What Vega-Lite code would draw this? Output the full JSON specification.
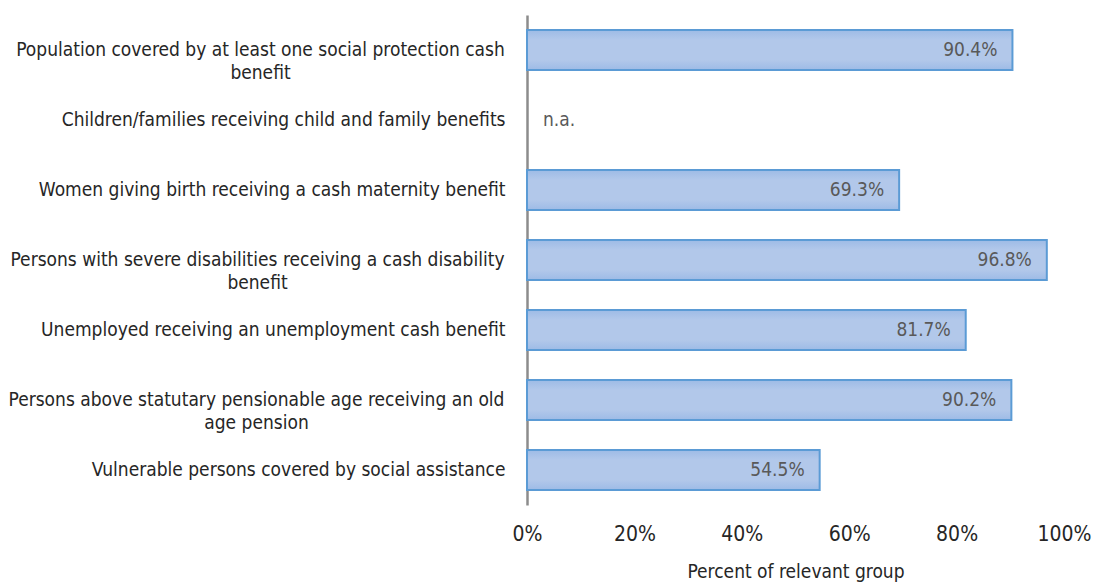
{
  "$schema": "https://vega.github.io/schema/vega-lite/v6.json",
  "autosize": "none",
  "width": 537,
  "height": 490,
  "padding": {"left": 527, "top": 15, "right": 34, "bottom": 80},
  "background": "white",
  "config": {
    "view": {"stroke": null},
    "font": "Liberation Sans Narrow, Arial Narrow, DejaVu Sans Condensed, sans-serif"
  },
  "data": {
    "values": [
      {"group": "Population covered by at least one social protection cash\nbenefit", "coverage": 90.4},
      {"group": "Children/families receiving child and family benefits", "coverage": null},
      {"group": "Women giving birth receiving a cash maternity benefit", "coverage": 69.3},
      {"group": "Persons with severe disabilities receiving a cash disability\nbenefit", "coverage": 96.8},
      {"group": "Unemployed receiving an unemployment cash benefit", "coverage": 81.7},
      {"group": "Persons above statutary pensionable age receiving an old\nage pension", "coverage": 90.2},
      {"group": "Vulnerable persons covered by social assistance", "coverage": 54.5}
    ]
  },
  "encoding": {
    "y": {
      "field": "group",
      "type": "nominal",
      "sort": null,
      "scale": {
        "domain": [
          "Population covered by at least one social protection cash\nbenefit",
          "Children/families receiving child and family benefits",
          "Women giving birth receiving a cash maternity benefit",
          "Persons with severe disabilities receiving a cash disability\nbenefit",
          "Unemployed receiving an unemployment cash benefit",
          "Persons above statutary pensionable age receiving an old\nage pension",
          "Vulnerable persons covered by social assistance"
        ],
        "paddingInner": 0.43,
        "paddingOuter": 0.215
      },
      "axis": {
        "title": null,
        "domain": true,
        "domainColor": "#8c8c8c",
        "domainWidth": 2.5,
        "ticks": false,
        "labelExpr": "split(datum.value, '\\n')",
        "labelFontSize": 19,
        "labelColor": "#262626",
        "labelLineHeight": 23,
        "labelLimit": 600,
        "labelAlign": {"expr": "indexof(datum.value, '\\n') >= 0 ? 'center' : 'right'"},
        "labelPadding": {"expr": "indexof(datum.value, 'Population') == 0 ? 267 : indexof(datum.value, 'Persons with') == 0 ? 270 : indexof(datum.value, 'Persons above') == 0 ? 271 : 22"}
      }
    }
  },
  "layer": [
    {
      "mark": {
        "type": "bar",
        "stroke": "#5B9BD5",
        "strokeWidth": 2,
        "color": {
          "gradient": "linear",
          "x1": 0, "y1": 0, "x2": 0, "y2": 1,
          "stops": [
            {"offset": 0, "color": "#9DBBE6"},
            {"offset": 0.25, "color": "#B2C8EA"},
            {"offset": 0.75, "color": "#B2C8EA"},
            {"offset": 1, "color": "#9DBBE6"}
          ]
        }
      },
      "encoding": {
        "x": {
          "field": "coverage",
          "type": "quantitative",
          "scale": {"domain": [0, 100], "nice": false},
          "axis": {
            "title": "Percent of relevant group",
            "titleFontSize": 19,
            "titleFontWeight": "normal",
            "titleColor": "#262626",
            "titlePadding": 18,
            "values": [0, 20, 40, 60, 80, 100],
            "labelExpr": "datum.value + '%'",
            "labelFontSize": 21,
            "labelColor": "#262626",
            "labelPadding": 18,
            "labelFlush": false,
            "domain": false,
            "ticks": false,
            "grid": false
          }
        }
      }
    },
    {
      "transform": [{"filter": "isValid(datum.coverage)"}],
      "mark": {
        "type": "text",
        "align": "right",
        "baseline": "middle",
        "dx": -15,
        "fontSize": 19,
        "color": "#595959",
        "text": {"expr": "format(datum.coverage, '.1f') + '%'"}
      },
      "encoding": {
        "x": {"field": "coverage", "type": "quantitative"}
      }
    },
    {
      "transform": [{"filter": "!isValid(datum.coverage)"}],
      "mark": {
        "type": "text",
        "align": "left",
        "baseline": "middle",
        "dx": 16,
        "fontSize": 19,
        "color": "#595959",
        "text": "n.a."
      },
      "encoding": {
        "x": {"datum": 0, "type": "quantitative"}
      }
    }
  ]
}
